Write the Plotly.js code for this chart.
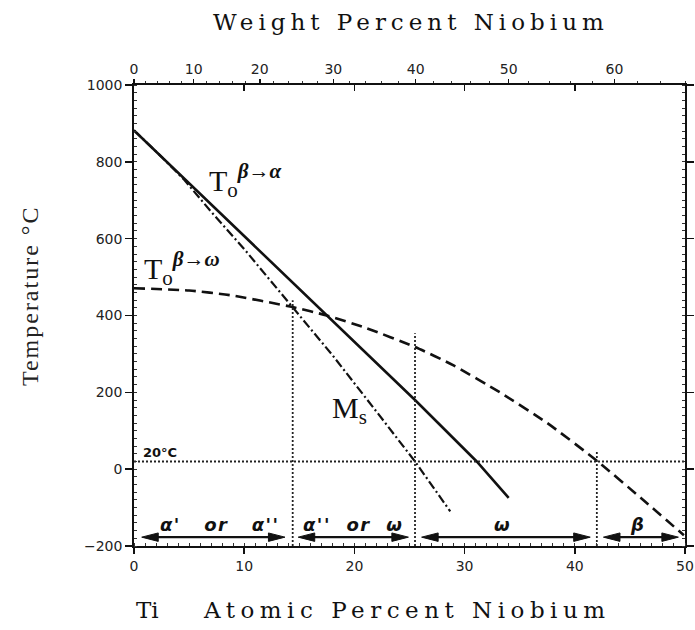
<!DOCTYPE html>
<html>
<head>
<meta charset="utf-8">
<script src="https://cdn.plot.ly/plotly-3.0.1.min.js"></script>
<style>body{margin:0;background:#fff}</style>
</head>
<body>
<div id="chart" style="width:695px;height:630px"></div>
<script>
// ---- data (atomic % Nb vs temperature °C) ----
const toAlphaX = [0, 10, 17.5, 25.5, 31.1, 34];
const toAlphaY = [882, 607, 400, 180, 20, -75];

const msX = [0, 2.5, 4.5, 7, 10, 14.4, 18, 22, 25.5, 28.7];
const msY = [882, 813, 755, 670, 573, 422, 297, 150, 20, -110];

const toOmegaX = [0, 5, 8.7, 14.4, 17.5, 21, 25.5, 29, 33.2, 37.5, 42, 46, 49.9];
const toOmegaY = [471, 465, 453, 422, 400, 368, 318, 270, 200, 120, 22, -75, -172];

const roomTemp = 20;
const roomTempX = [0, 50];
const boundaryX = [14.4, 25.5, 42.0];
const boundaryTop = [440, 354, 49];
const boundaryBottom = -200;

const arrowStart = [0.7, 14.9, 26.1, 42.6];
const arrowEnd = [13.7, 24.9, 41.4, 49.4];
const arrowY = -177;
const regionLabels = ["α'   or   α''", "α''  or  ω", "ω", "β"];
const regionCenters = [7.8, 19.9, 33.4, 45.7];
const regionLabelY = -145;

const weightTickLabels = [0, 10, 20, 30, 40, 50, 60];
const weightMinor = [];
for (let w = 0; w <= 66; w += 2) weightMinor.push(w);
const atomicMajorTop = [10, 20, 30, 40];

// weight % Nb -> atomic % Nb (axis mapping only)
const M_NB = 92.906, M_TI = 47.867;
function wtToAt(w) { const a = w / M_NB, b = (100 - w) / M_TI; return 100 * a / (a + b); }

// ---- traces ----
const traces = [];
traces.push({x: toAlphaX, y: toAlphaY, mode: 'lines', line: {color: '#111', width: 2.6}, hoverinfo: 'skip'});
traces.push({x: msX, y: msY, mode: 'lines', line: {color: '#111', width: 2.2, dash: '9px,3px,2px,3px'}, hoverinfo: 'skip'});
traces.push({x: toOmegaX, y: toOmegaY, mode: 'lines', line: {color: '#111', width: 2.6, dash: '11px,6px', shape: 'spline', smoothing: 0.6}, hoverinfo: 'skip'});
traces.push({x: roomTempX, y: roomTempX.map(() => roomTemp), mode: 'lines', line: {color: '#222', width: 1.8, dash: '2px,2px'}, hoverinfo: 'skip'});
const vx = [], vy = [];
boundaryX.forEach((bx, i) => { vx.push(bx, bx, null); vy.push(boundaryBottom, boundaryTop[i], null); });
traces.push({x: vx, y: vy, mode: 'lines', line: {color: '#222', width: 1.8, dash: '2px,2px'}, hoverinfo: 'skip'});

// arrows
const headLen = 1.5, headHalf = 11;
const ax = [], ay = [], hx = [], hy = [];
arrowStart.forEach((s, i) => {
  const e = arrowEnd[i];
  ax.push(s + headLen * 0.5, e - headLen * 0.5, null); ay.push(arrowY, arrowY, null);
  hx.push(s, s + headLen, s + headLen, s, null); hy.push(arrowY, arrowY + headHalf, arrowY - headHalf, arrowY, null);
  hx.push(e, e - headLen, e - headLen, e, null); hy.push(arrowY, arrowY + headHalf, arrowY - headHalf, arrowY, null);
});
traces.push({x: ax, y: ay, mode: 'lines', line: {color: '#111', width: 2.2}, hoverinfo: 'skip'});
traces.push({x: hx, y: hy, mode: 'lines', fill: 'toself', fillcolor: '#111', line: {color: '#111', width: 1}, hoverinfo: 'skip'});

// dummy traces to carry the top axes
traces.push({x: [null], y: [null], xaxis: 'x2', yaxis: 'y', mode: 'lines', hoverinfo: 'skip'});
traces.push({x: [null], y: [null], xaxis: 'x3', yaxis: 'y', mode: 'lines', hoverinfo: 'skip'});

// ---- annotations ----
const serif = 'Liberation Serif, serif';
const ann = [];
ann.push({xref: 'paper', yref: 'paper', x: 0.502, y: 1.137, text: '<span style="letter-spacing:5px">Weight Percent Niobium</span>', showarrow: false,
  font: {family: 'DejaVu Serif', size: 23, color: '#111'}, xanchor: 'center', yanchor: 'middle'});
ann.push({xref: 'paper', yref: 'paper', x: 0.495, y: -0.139, text: '<span style="letter-spacing:5.5px">Atomic Percent Niobium</span>', showarrow: false,
  font: {family: 'DejaVu Serif', size: 23, color: '#111'}, xanchor: 'center', yanchor: 'middle'});
ann.push({xref: 'paper', yref: 'paper', x: 0.0, y: -0.139, text: 'Ti', showarrow: false,
  font: {family: 'DejaVu Serif', size: 23, color: '#111'}, xanchor: 'left', yanchor: 'middle'});
ann.push({xref: 'paper', yref: 'paper', x: -0.189, y: 0.544, text: '<span style="letter-spacing:2px">Temperature °C</span>', showarrow: false, textangle: -90,
  font: {family: serif, size: 24, color: '#222'}, xanchor: 'center', yanchor: 'middle'});

ann.push({x: 6.6, y: 752, text: 'T<sub>o</sub><sup><b><i>β→α</i></b></sup>', showarrow: false, xanchor: 'left', yanchor: 'middle',
  font: {family: serif, size: 30, color: '#111'}});
ann.push({x: 0.7, y: 523, text: 'T<sub>o</sub><sup><b><i>β→ω</i></b></sup>', showarrow: false, xanchor: 'left', yanchor: 'middle',
  font: {family: serif, size: 30, color: '#111'}});
ann.push({x: 17.8, y: 154, text: 'M<sub>s</sub>', showarrow: false, xanchor: 'left', yanchor: 'middle',
  font: {family: serif, size: 30, color: '#111'}});
ann.push({x: 0.6, y: 44, text: '<b>20°C</b>', showarrow: false, xanchor: 'left', yanchor: 'middle',
  font: {family: 'DejaVu Sans', size: 13, color: '#111'}});
regionLabels.forEach((t, i) => {
  ann.push({x: regionCenters[i], y: regionLabelY, text: '<span style="letter-spacing:1.5px"><b><i>' + t + '</i></b></span>', showarrow: false, xanchor: 'center', yanchor: 'middle',
    font: {family: 'DejaVu Sans', size: 18, color: '#111'}});
});

const tickFont = {family: 'DejaVu Sans', size: 14, color: '#222'};
const layout = {
  width: 695, height: 630,
  margin: {l: 134, r: 10, t: 85, b: 84},
  paper_bgcolor: '#fff', plot_bgcolor: '#fff',
  showlegend: false,
  xaxis: {range: [0, 50], tickvals: [0, 10, 20, 30, 40, 50], ticks: 'outside', ticklen: 6, tickwidth: 1.5, tickcolor: '#111',
    showline: true, linecolor: '#111', linewidth: 1.8, mirror: true, showgrid: false, zeroline: false, tickfont: tickFont,
    minor: {dtick: 1, ticks: 'inside', ticklen: 3, tickwidth: 1, tickcolor: '#333', showgrid: false}},
  yaxis: {range: [-200, 1000], tickvals: [-200, 0, 200, 400, 600, 800, 1000], ticks: 'outside', ticklen: 7, tickwidth: 1.5, tickcolor: '#111',
    showline: true, linecolor: '#111', linewidth: 1.8, mirror: 'ticks', showgrid: false, zeroline: false, tickfont: tickFont,
    minor: {dtick: 20, ticks: 'inside', ticklen: 3, tickwidth: 1, tickcolor: '#333', showgrid: false}},
  xaxis2: {overlaying: 'x', side: 'top', range: [0, 50], tickmode: 'array',
    tickvals: weightTickLabels.map(wtToAt), ticktext: weightTickLabels.map(String),
    ticks: 'outside', ticklen: 4, tickwidth: 1.5, tickcolor: '#111', showline: true, linecolor: '#111', linewidth: 1.8,
    showgrid: false, zeroline: false, tickfont: tickFont,
    minor: {tickmode: 'array', tickvals: weightMinor.map(wtToAt), ticks: 'outside', ticklen: 2, tickwidth: 1, tickcolor: '#333', showgrid: false}},
  xaxis3: {overlaying: 'x', side: 'top', range: [0, 50], tickmode: 'array', tickvals: atomicMajorTop,
    ticks: 'inside', ticklen: 6, tickwidth: 1.5, tickcolor: '#111', showticklabels: false, showline: false, showgrid: false, zeroline: false},
  annotations: ann
};

Plotly.newPlot('chart', traces, layout, {displayModeBar: false, staticPlot: true});
</script>
</body>
</html>
